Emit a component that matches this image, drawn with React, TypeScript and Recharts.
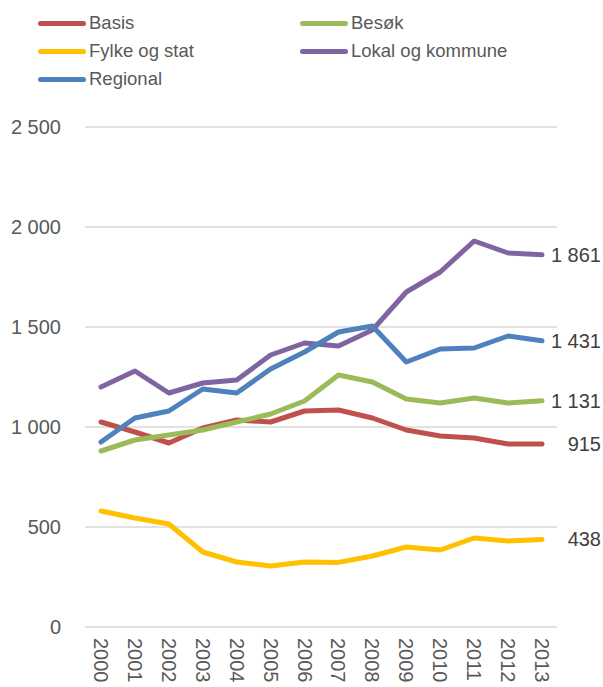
import * as React from "react"
import { LineChart, Line, XAxis, YAxis, CartesianGrid, Legend, LabelList } from "recharts"

// Kategorier og verdier lest av figuren
const years = ["2000", "2001", "2002", "2003", "2004", "2005", "2006", "2007", "2008", "2009", "2010", "2011", "2012", "2013"]
const basis = [1025, 975, 920, 995, 1035, 1025, 1080, 1085, 1045, 985, 955, 945, 915, 915]
const besok = [880, 935, 960, 985, 1025, 1065, 1130, 1260, 1225, 1140, 1120, 1145, 1120, 1131]
const fylke = [580, 545, 515, 375, 325, 305, 325, 323, 355, 400, 385, 445, 430, 438]
const lokal = [1200, 1280, 1170, 1220, 1235, 1360, 1420, 1405, 1485, 1675, 1775, 1930, 1870, 1861]
const regional = [925, 1045, 1080, 1190, 1170, 1290, 1375, 1475, 1505, 1325, 1390, 1395, 1455, 1431]
const yTicks = [0, 500, 1000, 1500, 2000, 2500]

const SERIES = [
  { key: "basis", name: "Basis", color: "#C0504D" },
  { key: "besok", name: "Besøk", color: "#9BBB59" },
  { key: "fylke", name: "Fylke og stat", color: "#FFC000" },
  { key: "lokal", name: "Lokal og kommune", color: "#8064A2" },
  { key: "regional", name: "Regional", color: "#4F81BD" },
]

const data = years.map((year, i) => ({
  year,
  basis: basis[i],
  besok: besok[i],
  fylke: fylke[i],
  lokal: lokal[i],
  regional: regional[i],
}))

const FONT = "'Liberation Sans', Arial, sans-serif"
const TEXT = "#595959"

// siden skal ikke rulle: fjern standardmarg
document.body.style.margin = "0"
document.body.style.overflow = "hidden"

// tusenskille med mellomrom, som i originalen
const fmt = (v: number) => String(v).replace(/\B(?=(\d{3})+(?!\d))/g, " ")

function LegendBox() {
  return (
    <div style={{ position: "relative", width: 603, height: 127, fontFamily: FONT, fontSize: 18.5, color: TEXT }}>
      {SERIES.map((s, i) => {
        const col = i % 2
        const row = Math.floor(i / 2)
        return (
          <div
            key={s.key}
            style={{ position: "absolute", left: col === 0 ? 38 : 300, top: 10 + row * 28, height: 26, display: "flex", alignItems: "center" }}
          >
            <span style={{ display: "inline-block", width: 48, height: 5, borderRadius: 3, background: s.color, marginRight: 3 }} />
            <span>{s.name}</span>
          </div>
        )
      })}
    </div>
  )
}

function YearTick(props: any) {
  const { x, y, payload } = props
  return (
    <text x={x} y={y} transform={`rotate(90, ${x}, ${y})`} dx={3} dy={7} textAnchor="start" fontSize={20} fill={TEXT} fontFamily={FONT}>
      {payload.value}
    </text>
  )
}

function EndLabel(props: any) {
  const { x, y, value, index } = props
  if (index !== years.length - 1) return null
  return (
    <text x={x + 59} y={y} dy={7} textAnchor="end" fontSize={20} fill="#404040" fontFamily={FONT}>
      {fmt(value)}
    </text>
  )
}

export default function App() {
  return (
    <div style={{ width: 603, height: 687 }}>
      <LineChart width={603} height={687} data={data} margin={{ top: 0, right: 46, bottom: 0, left: 0 }}>
        <CartesianGrid vertical={false} stroke="#d9d9d9" strokeWidth={1.5} />
        <XAxis
          dataKey="year"
          axisLine={false}
          tickLine={false}
          tick={<YearTick />}
          height={60}
          interval={0}
          padding={{ left: 16, right: 15 }}
        />
        <YAxis
          domain={[0, 2500]}
          ticks={yTicks}
          width={85}
          axisLine={false}
          tickLine={false}
          tickMargin={18}
          tickFormatter={fmt}
          tick={{ fontSize: 20, fill: TEXT, fontFamily: FONT }}
        />
        <Legend verticalAlign="top" align="left" wrapperStyle={{ left: 0, top: 0 }} content={() => <LegendBox />} />
        {SERIES.map((s) => (
          <Line
            key={s.key}
            type="linear"
            dataKey={s.key}
            name={s.name}
            stroke={s.color}
            strokeWidth={5}
            strokeLinecap="round"
            strokeLinejoin="round"
            dot={false}
            activeDot={false}
            isAnimationActive={false}
          >
            <LabelList dataKey={s.key} content={<EndLabel />} />
          </Line>
        ))}
      </LineChart>
    </div>
  )
}
